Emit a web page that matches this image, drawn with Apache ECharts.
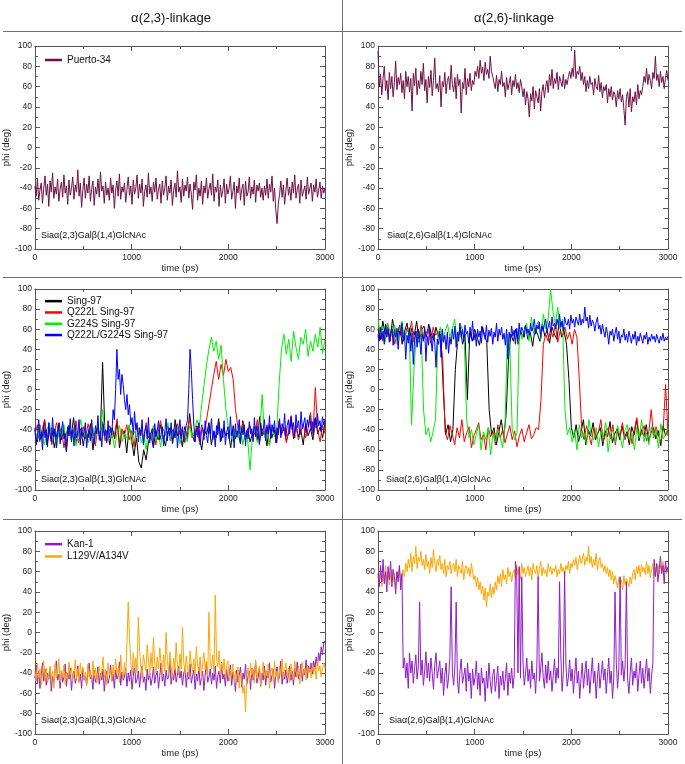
<!DOCTYPE html>
<html>
<head>
<meta charset="utf-8">
<script src="https://cdn.jsdelivr.net/npm/echarts@6/dist/echarts.min.js"></script>
<style>
html,body{margin:0;padding:0;background:#fff;}
#c{width:685px;height:764px;}
</style>
</head>
<body>
<div id="c"></div>
<script>
// ---------- data (phi in degrees, evenly sampled over 0..3000 ps) ----------
const xTicks = [0, 1000, 2000, 3000];
const yRange = [-100, 100];

// Row 1: Puerto-34
const puerto23 = [
-38,-48,-30,-52,-42,-35,-55,-40,-28,-47,-36,-58,-33,-44,-25,-50,-39,-46,-31,-53,
-41,-34,-49,-27,-45,-38,-56,-32,-47,-40,-29,-51,-37,-44,-22,-48,-35,-59,-42,-30,
-50,-36,-45,-28,-53,-41,-33,-57,-39,-46,-31,-49,-24,-43,-38,-55,-34,-47,-40,-52,
-30,-45,-37,-60,-42,-33,-48,-26,-51,-39,-44,-35,-54,-41,-29,-47,-38,-56,-32,-46,
-40,-27,-50,-36,-45,-31,-58,-43,-37,-49,-25,-46,-39,-53,-34,-44,-30,-51,-41,-36,
-55,-33,-47,-40,-28,-52,-38,-45,-32,-57,-42,-35,-49,-23,-44,-39,-54,-31,-48,-37,
-43,-29,-50,-36,-46,-61,-34,-42,-27,-52,-40,-48,-33,-56,-38,-45,-30,-50,-41,-35,
-47,-26,-53,-39,-44,-32,-58,-37,-49,-42,-31,-55,-36,-46,-40,-28,-51,-43,-34,-60,
-38,-45,-30,-52,-41,-36,-57,-33,-48,-44,-29,-50,-39,-46,-32,-54,-37,-43,-35,-49,
-40,-52,-38,-47,-31,-50,-36,-44,-28,-53,-40,-62,-75,-55,-46,-33,-49,-37,-56,-42,
-30,-47,-39,-52,-34,-45,-27,-50,-41,-36,-55,-32,-48,-43,-38,-51,-29,-46,-40,-35,
-53,-37,-44,-31,-49,-42,-34,-50,-38,-45,-40];
const puerto26 = [
95,60,72,52,68,80,56,66,47,74,58,70,50,64,85,57,69,62,73,54,
66,48,75,60,70,55,68,36,73,61,78,52,66,58,75,62,83,56,67,44,
70,59,76,51,66,88,58,63,55,71,40,65,60,74,53,66,70,57,81,62,
55,69,48,72,61,67,34,64,58,78,52,68,60,73,56,66,62,75,70,80,
68,86,73,79,66,84,72,77,68,90,75,70,64,58,71,55,67,62,75,60,
64,50,69,57,63,70,52,66,60,72,58,64,54,67,60,50,58,42,55,48,
30,53,46,60,38,56,50,44,58,36,55,62,49,60,66,54,72,61,77,58,
68,63,74,57,70,65,60,72,58,67,62,70,75,68,78,70,96,68,75,72,
80,66,74,62,70,55,66,58,70,62,64,52,68,60,57,71,55,64,49,60,
56,62,44,58,50,60,47,55,52,40,56,48,58,45,52,38,22,50,55,40,
58,35,50,45,55,42,62,48,56,52,60,70,64,78,62,72,66,58,74,68,
90,66,72,60,75,64,70,58,68,76,66];

// Row 2: Sing-97 variants, alpha(2,3)
const sing23 = [
-40,-52,-35,-48,-30,-55,-42,-38,-58,-45,
-33,-50,-40,-62,-36,-47,-28,-53,-44,-39,
-56,-41,-48,-34,-60,-43,-37,-51,27,-46,
-40,-55,-38,-49,-32,-58,-44,-41,-63,-36,
-50,-66,-48,-72,-78,-60,-70,-52,-45,-58,
-40,-50,-35,-47,-56,-42,-38,-53,-30,-46,
-41,-57,-37,-49,-24,-44,-52,-36,-47,-60,
-40,-45,-33,-55,-42,-48,-29,-51,-38,-46,
-43,-58,-36,-49,-41,-54,-31,-47,-39,-52,
-44,-37,-50,-27,-46,-42,-56,-35,-48,-40,
-53,-32,-45,-38,-51,-43,-30,-49,-36,-47,
-40,-55,-34,-46,-39,-50,-28,-44,-37,-48,-33];
const q222l23 = [
-45,-35,-52,-40,-30,-48,-38,-55,-42,-33,
-47,-39,-58,-44,-36,-50,-41,-31,-53,-43,
-37,-49,-34,-45,-40,-56,-38,-47,-32,-51,
-42,-36,-48,-44,-29,-53,-39,-46,-35,-50,
-41,-57,-37,-45,-40,-52,-33,-48,-43,-38,
-55,-42,-31,-49,-44,-36,-51,-40,-47,-34,
-45,-39,-53,-41,-30,-48,-44,-37,-52,-35,
-46,-30,-15,0,15,28,10,25,14,30,
18,22,10,-20,-38,-45,-33,-50,-41,-36,
-48,-43,-30,-52,-39,-46,-35,-55,-42,-37,
-49,-31,-44,-38,-53,-40,-26,-47,-36,-50,
-42,-34,-48,-39,-23,-45,2,-41,-52,-35,-44];
const g224s23 = [
-42,-50,-36,-47,-55,-40,-33,-48,-44,-58,
-38,-46,-35,-52,-41,-49,-37,-56,-43,-30,
-48,-40,-53,-45,-38,-50,-34,-47,-20,-44,
-51,-39,-46,-58,-42,-36,-52,-44,-48,-35,
-55,-41,-47,-38,-53,-45,-60,-40,-49,-36,
-51,-43,-57,-39,-46,-33,-50,-42,-48,-37,
-54,-44,-40,-52,-36,-47,-42,-30,-38,-15,
5,25,40,52,38,48,30,44,10,-20,
-38,-45,-52,-40,-48,-36,-55,-43,-50,-80,
-46,-39,-53,-44,-5,-48,-41,-56,-37,-47,
-43,5,40,55,35,50,28,58,42,30,
52,45,60,33,48,38,55,42,62,36,50];
const q222lg224s23 = [
-38,-55,-46,-30,-50,-42,-60,-35,-48,-40,-57,-33,-45,-52,-28,-47,-39,-58,-43,-36,
-54,-41,-32,-49,-44,-60,-37,-46,-29,-52,-40,-56,-35,-48,-43,-30,-55,-38,-47,-42,
-33,-58,-45,-39,-51,-30,-47,-54,-36,-44,-26,-50,-41,-57,-34,-46,-40,-53,-31,-48,
-38,-45,-20,-30,0,40,10,20,-5,15,5,-10,-20,-5,-25,-15,-35,-28,-45,-22,
-40,-33,-52,-38,-46,-30,-55,-42,-36,-49,-28,-53,-44,-39,-57,-34,-47,-41,-31,-50,
-45,-37,-56,-42,-29,-51,-38,-46,-33,-54,-40,-48,-35,-58,-43,-30,-49,-37,-52,-44,
-36,-30,0,40,20,-10,-35,-52,-40,-47,-33,-55,-42,-38,-50,-31,-46,-53,-37,-44,
-29,-50,-41,-57,-36,-45,-33,-52,-39,-48,-31,-55,-43,-37,-49,-27,-46,-40,-58,-34,
-47,-42,-30,-53,-38,-45,-35,-56,-41,-49,-32,-44,-39,-52,-28,-47,-36,-43,-55,-33,
-46,-40,-30,-51,-37,-44,-26,-49,-35,-42,-31,-53,-38,-45,-29,-48,-34,-41,-24,-47,
-36,-30,-44,-27,-40,-33,-48,-25,-38,-31,-45,-22,-39,-34,-28,-43,-30,-37,-26,-41,
-32,-45,-29,-38,-24,-36,-31,-42,-27,-35,-30];

// Row 2: Sing-97 variants, alpha(2,6)
const sing26 = [
60,50,68,55,62,48,70,57,52,64,
45,58,66,50,61,54,68,47,59,63,
52,65,56,49,62,53,55,0,-45,-35,
-52,-40,20,50,62,45,55,-10,58,48,
60,52,44,63,55,47,-20,-45,-38,-55,
-42,-30,-48,-25,30,55,48,60,45,58,
52,64,50,57,43,61,55,48,66,53,
59,46,62,55,50,67,52,58,45,10,
-38,-48,-35,-52,-42,-30,-55,-40,-46,-33,
-50,-43,-38,-56,-41,-47,-32,-53,-44,-39,
-50,-36,-48,-42,-55,-37,-45,-30,-51,-40,
-47,-35,-52,-43,-38,-49,-41,-56,-36,-46,-40];
const q222l26 = [
52,62,48,58,66,50,60,45,57,63,
54,49,61,55,68,47,58,52,64,50,
56,60,46,62,54,57,50,30,-42,-50,
-36,-45,-55,-38,-48,-30,-52,-43,-37,-58,
-46,-40,-33,-50,-45,-60,-38,-47,-42,-55,
-35,-48,-40,-53,-44,-36,-50,-41,-57,-46,
-39,-52,-43,-35,-49,-45,-38,-40,-10,45,
55,48,60,52,65,47,58,53,62,50,
57,45,60,52,10,-40,-50,-36,-45,-55,
-38,-47,-42,-30,-52,-44,-38,-49,-35,-55,
-41,-46,-33,-50,-43,-38,-54,-40,-28,-47,
-44,-36,-51,-42,-20,-48,-37,-45,-53,-40,5,-46];
const g224s26 = [
70,55,62,48,66,58,52,64,45,60,
68,50,58,62,-35,20,55,48,60,-20,
-45,-38,-52,-42,-30,55,62,48,58,65,
52,60,70,45,57,63,50,-30,-48,-40,
-55,-45,-35,-60,-42,-50,-38,-65,-44,-52,
-40,-47,-58,-36,55,45,-40,-50,-43,62,
50,58,66,48,72,55,63,68,50,75,
60,70,100,78,65,82,60,70,-20,-45,
-38,-52,-40,-60,-35,-48,-43,-55,-30,-46,
-50,-38,-57,-42,-48,-33,-62,-45,-40,-53,
-36,-47,-58,-41,-35,-50,-44,-60,-38,-48,
-30,-52,-43,-55,-37,-47,-40,-58,-34,-49,-45,-38];
const q222lg224s26 = [
55,48,62,50,58,45,65,52,60,47,56,63,44,57,52,61,40,58,54,66,
48,57,30,54,46,61,38,56,25,50,58,42,60,52,35,55,48,62,28,53,
44,62,50,38,56,47,22,50,45,58,32,60,47,54,40,57,36,52,45,60,
50,63,42,57,48,66,52,60,48,64,55,58,46,62,51,68,49,56,43,60,
52,58,46,62,55,50,64,47,59,53,61,45,57,52,66,48,60,54,62,50,
56,44,60,30,57,48,63,53,59,45,61,50,66,55,62,58,52,64,56,60,
54,66,58,62,70,55,64,60,67,52,63,58,65,70,58,62,68,57,72,63,
66,60,70,64,75,62,68,58,72,66,64,70,60,74,66,70,62,72,68,64,
75,64,70,66,82,68,72,61,74,63,69,66,58,67,72,60,64,55,65,58,
52,62,56,45,58,54,60,48,56,62,50,58,46,54,52,60,49,55,47,58,
52,46,55,50,58,44,53,48,56,51,46,54,50,57,45,52,48,55,50,53,
47,55,50,46,53,49,56,48,52,50,53];

// Row 3: Kan-1 and L129V/A134V
const kan23 = [
-45,-32,-50,-38,-55,-42,-30,-48,-36,-52,-40,-46,-35,-58,-43,-50,-38,-28,-47,-41,
-55,-37,-49,-44,-31,-53,-40,-46,-35,-57,-42,-38,-50,-45,-33,-48,-41,-55,-36,-47,
-43,-52,-39,-30,-46,-42,-56,-37,-49,-44,-34,-51,-40,-47,-36,-58,-43,-38,-50,-45,
-32,-48,-41,-55,-37,-46,-42,-29,-52,-39,-47,-44,-35,-53,-40,-48,-37,-56,-43,-31,
-50,-46,-38,-54,-41,-33,-49,-44,-57,-36,-47,-40,-52,-45,-34,-50,-42,-38,-55,-43,
-30,-48,-41,-53,-37,-46,-44,-28,-51,-40,-47,-35,-49,-42,-33,-45,-38,-52,-40,-36,
-54,-39,-46,-31,-50,-43,-37,-56,-41,-48,-34,-52,-45,-38,-57,-42,-30,-49,-44,-36,
-51,-40,-47,-33,-55,-43,-38,-50,-29,-46,-41,-53,-36,-48,-44,-32,-52,-39,-45,-58,
-37,-49,-42,-34,-54,-40,-46,-31,-51,-43,-38,-56,-35,-47,-41,-29,-50,-44,-36,-53,
-40,-47,-33,-52,-38,-45,-30,-49,-42,-36,-55,-41,-34,-48,-43,-28,-51,-39,-46,-37,
-50,-42,-33,-47,-38,-52,-35,-44,-29,-46,-40,-31,-48,-36,-42,-27,-45,-33,-39,-30,
-41,-28,-36,-24,-33,-20,-28,-14,-22,-10,-8];
const l129v23 = [
-38,-48,-30,-44,-36,-52,-40,-28,-46,-35,-50,-42,-33,-47,-38,-55,-31,-45,-40,-26,
-49,-37,-44,-32,-51,-39,-46,-29,-42,-35,-48,-40,-27,-45,-36,-50,-30,-41,-34,-47,
-39,-53,-31,-44,-37,-49,-28,-43,-35,-50,-41,-33,-46,-38,-24,-45,-36,-52,-30,-42,
-37,-48,-32,-44,-26,-40,-35,-49,-22,-38,-45,-30,-41,-10,30,-5,-28,-42,-20,-35,
-25,-40,15,-18,-33,-45,-22,-30,-38,-12,-27,-43,-20,-35,-5,-31,-40,-24,-36,-15,
-30,-44,-22,-38,0,-28,-41,-19,-34,-46,-25,-37,-10,-32,-42,-21,-36,5,-29,-40,
-23,-35,-44,-18,-31,-39,-26,-42,-14,-33,-38,-24,-45,-30,-20,-37,-28,-43,20,-30,
-36,-22,-41,37,-25,-34,-18,-42,-30,-38,-26,-45,-33,-28,-48,-36,-42,-31,-50,-38,
-46,-34,-55,-40,-48,-60,-52,-78,-44,-35,-48,-30,-42,-36,-50,-27,-45,-38,-33,-52,
-40,-29,-46,-37,-43,-31,-55,-39,-35,-48,-28,-44,-38,-50,-33,-41,-26,-47,-36,-30,
-43,-35,-49,-31,-40,-46,-28,-38,-44,-33,-51,-37,-29,-42,-35,-47,-32,-40,-36,-45,
-30,-41,-34,-46,-28,-38,-33,-44,-36,-30,-35];
const kan26 = [
58,45,66,50,72,48,60,40,65,52,70,45,62,55,38,60,50,66,42,58,
-35,-25,-45,-30,-55,-20,-40,-28,-50,-36,-22,-46,-33,30,-42,-27,-52,-38,-19,-45,
-30,-48,-25,-40,-56,-32,-20,-45,-37,-28,-50,-35,-62,-42,-30,-55,-45,-24,45,-40,
-52,-33,30,-47,-60,-38,-26,-50,-43,-35,-58,-30,-48,-40,-65,-36,-52,-44,-28,-56,
-40,-62,-35,-50,-45,-68,-38,-55,-30,-48,-60,-42,-36,-58,-47,-33,-65,-43,-52,-38,
-57,-45,-30,-62,-40,-50,-35,-55,-42,70,60,-40,65,-45,55,-30,-52,-40,-25,-48,
-36,-55,-28,-46,-40,-60,-33,55,-48,-36,-20,-44,-55,-32,-50,-28,-47,-38,-58,-42,
-26,-50,-35,-45,50,-22,-58,-40,60,-30,-53,-44,-27,-48,-36,-60,-42,-25,-50,-38,
-65,-45,-30,-55,-40,-28,-52,-36,-60,-42,-25,-50,-38,-65,-45,-30,-55,-42,-28,-47,
-36,-60,-42,-25,-50,-38,-65,-45,40,-30,-55,-36,55,-42,-28,-48,-33,50,-47,-60,
-40,-25,-52,-38,-45,-30,-58,-42,-28,-50,-35,-55,-40,-26,-48,-35,-60,-42,-30,72,
55,68,50,62,75,58,66,48,70,60,65];
const l129v26 = [
55,48,62,45,58,50,66,52,60,47,56,62,50,58,44,60,54,65,50,57,
62,55,68,60,72,64,78,60,75,68,85,63,74,70,80,66,72,62,77,65,
70,58,74,64,82,68,60,72,66,76,62,68,58,72,55,66,62,70,58,65,
68,60,72,55,66,62,58,70,52,63,66,58,64,55,68,60,52,56,45,54,
42,50,38,46,32,44,25,40,36,48,34,45,38,50,42,56,48,58,45,62,
52,57,48,64,55,60,50,58,62,54,66,57,63,52,68,58,64,55,60,66,
56,64,52,68,60,58,66,54,62,70,56,64,58,62,55,68,60,65,57,63,
60,66,55,62,58,68,60,64,56,66,62,70,58,68,64,72,66,74,62,70,
76,68,72,78,66,74,70,85,68,75,64,72,66,78,62,70,74,64,68,60,
66,58,64,55,62,52,60,48,56,50,44,54,48,52,42,56,47,53,50,45,
55,48,58,62,52,65,58,66,55,67,60,64,57,70,58,66,54,62,68,56,
64,60,67,58,66,62,70,60,65,58,64];

// ---------- layout ----------
const FONT = "'Liberation Sans', Arial, sans-serif";
const FRAME = '#555';
const grids = [
  {left: 34, top: 46, width: 291, height: 203},
  {left: 378, top: 46, width: 290, height: 203},
  {left: 34, top: 289, width: 291, height: 201},
  {left: 378, top: 289, width: 290, height: 201},
  {left: 34, top: 531, width: 291, height: 203},
  {left: 378, top: 531, width: 290, height: 203}
];

const C = {
  maroon: '#6e1244', black: '#000000', red: '#ff0000', green: '#00ee00',
  blue: '#0000ff', purple: '#8f1dc9', orange: '#ffa500'
};

function mk(arr) {
  const n = arr.length;
  return arr.map((v, i) => [i * xTicks[xTicks.length - 1] / (n - 1), v]);
}

const xAxes = [], yAxes = [];
grids.forEach((g, gi) => {
  const tick = {show: true, inside: true, length: 5, lineStyle: {color: FRAME, width: 1}};
  const minor = {show: true, splitNumber: 2, length: 3, lineStyle: {color: FRAME, width: 1}};
  const line = {show: true, onZero: false, lineStyle: {color: FRAME, width: 1}};
  const common = {type: 'value', gridIndex: gi, splitLine: {show: false}, minorSplitLine: {show: false}, axisTick: tick, minorTick: minor, axisLine: line};
  xAxes.push(Object.assign({}, common, {
    position: 'bottom', min: xTicks[0], max: xTicks[xTicks.length - 1], interval: 1000,
    axisLabel: {fontSize: 8.5, margin: 4, color: '#222', fontFamily: FONT, formatter: v => String(v)},
    name: 'time (ps)', nameLocation: 'middle', nameGap: 11,
    nameTextStyle: {fontSize: 9.5, color: '#222', fontFamily: FONT}
  }));
  xAxes.push(Object.assign({}, common, {
    position: 'top', min: xTicks[0], max: xTicks[xTicks.length - 1], interval: 1000,
    axisLabel: {show: false}
  }));
  yAxes.push(Object.assign({}, common, {
    position: 'left', min: yRange[0], max: yRange[1], interval: 20,
    axisLabel: {fontSize: 8.5, margin: 3, color: '#222', fontFamily: FONT, formatter: v => String(v)},
    name: 'phi (deg)', nameLocation: 'middle', nameGap: gi % 2 === 0 ? 21 : 22,
    nameTextStyle: {fontSize: 9.5, color: '#222', fontFamily: FONT}
  }));
  yAxes.push(Object.assign({}, common, {
    position: 'right', min: yRange[0], max: yRange[1], interval: 20,
    axisLabel: {show: false}
  }));
});

function ser(name, gi, arr, color, w) {
  return {
    type: 'line', name: name, xAxisIndex: gi * 2, yAxisIndex: gi * 2,
    data: mk(arr), symbol: 'none', showSymbol: false, sampling: null,
    lineStyle: {width: w || 1, color: color}, itemStyle: {color: color},
    animation: false, silent: true
  };
}

const series = [
  ser('Puerto-34', 0, puerto23, C.maroon),
  ser('Puerto-34', 1, puerto26, C.maroon),
  ser('Sing-97', 2, sing23, C.black),
  ser('Q222L Sing-97', 2, q222l23, C.red),
  ser('G224S Sing-97', 2, g224s23, C.green),
  ser('Q222L/G224S Sing-97', 2, q222lg224s23, C.blue),
  ser('Sing-97', 3, sing26, C.black),
  ser('Q222L Sing-97', 3, q222l26, C.red),
  ser('G224S Sing-97', 3, g224s26, C.green),
  ser('Q222L/G224S Sing-97', 3, q222lg224s26, C.blue),
  ser('Kan-1', 4, kan23, C.purple),
  ser('L129V/A134V', 4, l129v23, C.orange),
  ser('L129V/A134V', 5, l129v26, C.orange),
  ser('Kan-1', 5, kan26, C.purple)
];

function legend(names, top, lh) {
  return {
    data: names, orient: 'vertical', left: 45, top: top, icon: 'rect',
    itemWidth: 17, itemHeight: 2.5, itemGap: 0, padding: 0, selectedMode: false,
    textStyle: {fontSize: 10, color: '#111', fontFamily: FONT, lineHeight: lh}
  };
}

function txt(s, x, y, size, align) {
  return {type: 'text', silent: true, style: {text: s, x: x, y: y, fill: '#111',
    font: size + 'px ' + FONT, fontSize: size, fontFamily: FONT,
    align: align, textAlign: align, verticalAlign: 'middle', textVerticalAlign: 'middle'}};
}
function ln(x1, y1, x2, y2) {
  return {type: 'line', silent: true, shape: {x1: x1, y1: y1, x2: x2, y2: y2},
    style: {stroke: '#707070', lineWidth: 1}};
}

const graphic = [
  ln(3, 31.5, 682, 31.5),
  ln(3, 277.5, 682, 277.5),
  ln(3, 519.5, 682, 519.5),
  ln(342.5, 0, 342.5, 764),
  txt('α(2,3)-linkage', 171, 18, 13, 'center'),
  txt('α(2,6)-linkage', 514, 18, 13, 'center'),
  txt('Siaα(2,3)Galβ(1,4)GlcNAc', 41, 236, 9, 'left'),
  txt('Siaα(2,6)Galβ(1,4)GlcNAc', 387, 236, 9, 'left'),
  txt('Siaα(2,3)Galβ(1,3)GlcNAc', 41, 480, 9, 'left'),
  txt('Siaα(2,6)Galβ(1,4)GlcNAc', 386, 480, 9, 'left'),
  txt('Siaα(2,3)Galβ(1,3)GlcNAc', 41, 721, 9, 'left'),
  txt('Siaα(2,6)Galβ(1,4)GlcNAc', 389, 721, 9, 'left')
];

const chart = echarts.init(document.getElementById('c'), null, {renderer: 'canvas'});
chart.setOption({
  backgroundColor: '#ffffff',
  animation: false,
  textStyle: {fontFamily: FONT},
  grid: grids,
  xAxis: xAxes,
  yAxis: yAxes,
  legend: [
    legend(['Puerto-34'], 54.5, 11),
    legend(['Sing-97', 'Q222L Sing-97', 'G224S Sing-97', 'Q222L/G224S Sing-97'], 295.5, 11.3),
    legend(['Kan-1', 'L129V/A134V'], 538, 12.3)
  ],
  series: series,
  graphic: graphic
});
</script>
</body>
</html>
